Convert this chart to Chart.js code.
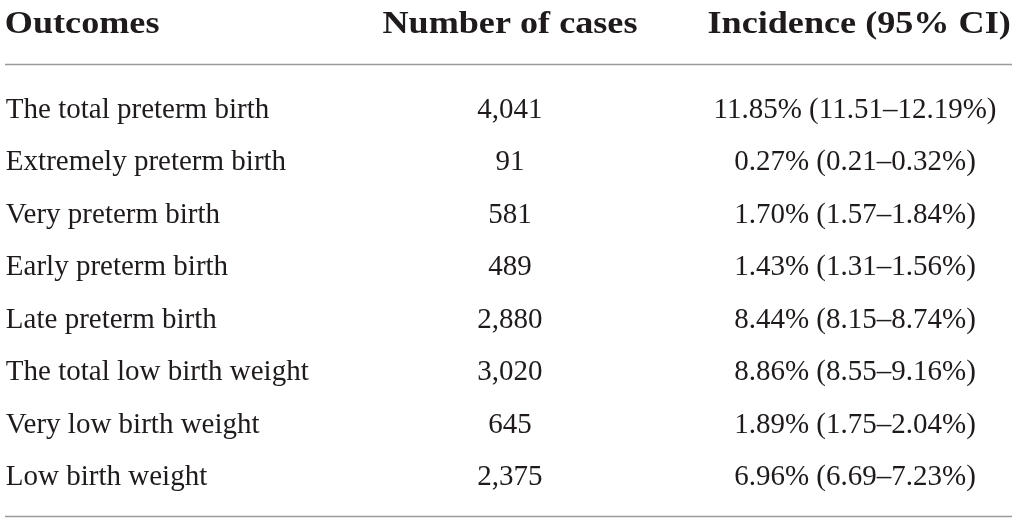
<!DOCTYPE html>
<html>
<head>
<meta charset="utf-8">
<script src="https://cdn.jsdelivr.net/npm/chart.js@4/dist/chart.umd.min.js"></script>
<style>
  html, body { margin: 0; padding: 0; background: #ffffff; }
  #tableChart { display: block; }
</style>
</head>
<body>
<canvas id="tableChart" width="1017" height="522"></canvas>
<script>
// Data of the table
const headers = ['Outcomes', 'Number of cases', 'Incidence (95% CI)'];
const outcomes = [
    'The total preterm birth',
    'Extremely preterm birth',
    'Very preterm birth',
    'Early preterm birth',
    'Late preterm birth',
    'The total low birth weight',
    'Very low birth weight',
    'Low birth weight'
];
const cases = ['4,041', '91', '581', '489', '2,880', '3,020', '645', '2,375'];
const incidence = [
    '11.85% (11.51–12.19%)',
    '0.27% (0.21–0.32%)',
    '1.70% (1.57–1.84%)',
    '1.43% (1.31–1.56%)',
    '8.44% (8.15–8.74%)',
    '8.86% (8.55–9.16%)',
    '1.89% (1.75–2.04%)',
    '6.96% (6.69–7.23%)'
];

document.addEventListener('DOMContentLoaded', () => {
    const canvas = document.getElementById('tableChart');
    const ctx = canvas.getContext('2d');

    // Tampilan tabel
    const style = {
        textColor: '#1f1b1c',
        ruleColor: '#9a9a9a',
        bodyFont: '29px "Liberation Serif", "Times New Roman", serif',
        headFont: 'bold 32px "Liberation Serif", "Times New Roman", serif',
        headStretch: 1.13,
        colAnchor: [-0.461, 1, 2.0],      // posisi kolom pada sumbu x
        colAlign: ['left', 'center', 'center'],
        headAnchor: [-0.464, 1, 2.012],
        headRow: -1.62,                   // baris judul pada sumbu y
        rules: [-1.03, 7.59]              // garis atas & bawah
    };

    const columns = [outcomes, cases, incidence];

    // Setiap sel jadi satu titik (x = kolom, y = baris)
    const datasets = columns.map((col, c) => ({
        label: headers[c],
        data: col.map((txt, r) => ({ x: c, y: r, text: txt })),
        pointRadius: 0,
        pointHoverRadius: 0
    }));

    const tablePlugin = {
        id: 'tableText',
        afterDatasetsDraw(chart) {
            const { ctx, scales: { x, y }, chartArea } = chart;
            ctx.save();

            // garis horizontal
            ctx.strokeStyle = style.ruleColor;
            ctx.lineWidth = 1.4;
            style.rules.forEach(v => {
                const py = Math.round(y.getPixelForValue(v)) + 0.5;
                ctx.beginPath();
                ctx.moveTo(chartArea.left + 5, py);
                ctx.lineTo(chartArea.right - 5, py);
                ctx.stroke();
            });

            // judul kolom
            ctx.fillStyle = style.textColor;
            ctx.font = style.headFont;
            ctx.textBaseline = 'alphabetic';
            headers.forEach((h, c) => {
                const px = x.getPixelForValue(style.headAnchor[c]);
                const py = y.getPixelForValue(style.headRow);
                ctx.save();
                ctx.translate(px, py);
                ctx.scale(style.headStretch, 1);
                ctx.textAlign = style.colAlign[c];
                ctx.fillText(h, 0, 0);
                ctx.restore();
            });

            // isi sel
            ctx.font = style.bodyFont;
            chart.data.datasets.forEach((ds, c) => {
                ctx.textAlign = style.colAlign[c];
                ds.data.forEach(pt => {
                    const px = x.getPixelForValue(style.colAnchor[c] + (pt.x - c));
                    const py = y.getPixelForValue(pt.y);
                    ctx.fillText(pt.text, px, py);
                });
            });

            ctx.restore();
        }
    };

    new Chart(ctx, {
        type: 'scatter',
        data: { datasets },
        options: {
            responsive: false,
            animation: false,
            events: [],
            layout: { padding: 0 },
            plugins: {
                legend: { display: false },
                tooltip: { enabled: false },
                title: { display: false }
            },
            scales: {
                x: {
                    type: 'linear',
                    display: false,
                    min: -0.478,
                    max: 2.4696
                },
                y: {
                    type: 'linear',
                    display: false,
                    reverse: true,
                    min: -2.2507,
                    max: 7.7055
                }
            }
        },
        plugins: [tablePlugin]
    });
});
</script>
</body>
</html>
